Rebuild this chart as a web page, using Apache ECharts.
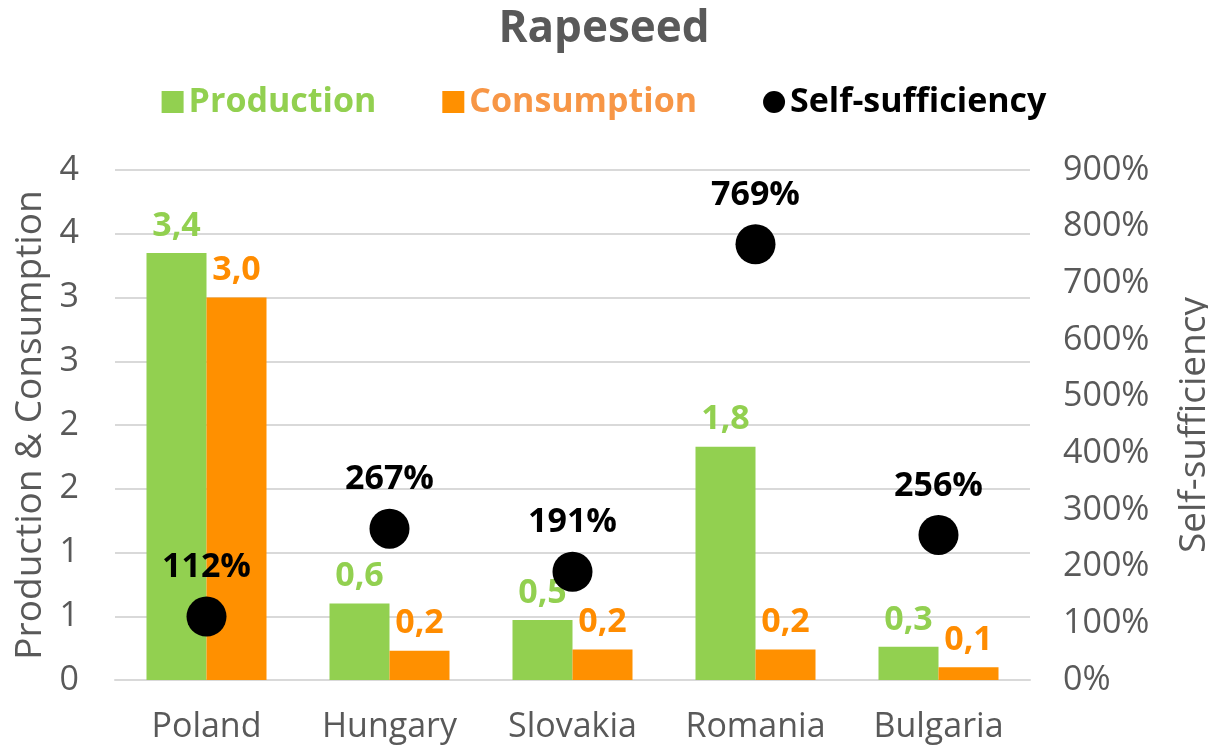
<!DOCTYPE html>
<html lang="en">
<head>
    <meta charset="utf-8">
    <title>Rapeseed</title>
    <script src="https://cdn.jsdelivr.net/npm/echarts@6/dist/echarts.min.js"></script>
    <style>
        html, body { margin: 0; padding: 0; background: #fff; }
        #chart { width: 1208px; height: 746px; }
    </style>
</head>
<body>
<div id="chart"></div>
<script type="text/javascript">
    var countries = ['Poland', 'Hungary', 'Slovakia', 'Romania', 'Bulgaria'];
    var production = [3.35, 0.60, 0.47, 1.83, 0.26];
    var consumption = [3.0, 0.23, 0.24, 0.24, 0.10];
    var selfSufficiency = [1.12, 2.67, 1.91, 7.69, 2.56];

    var gray = '#595959';
    var green = '#92D050';
    var orange = '#FF9000';
    var font = '"Open Sans", Lato, sans-serif';

    function commaFmt(p) {
        return p.value.toFixed(1).replace('.', ',');
    }

    var myChart = echarts.init(document.getElementById('chart'));

    var option = {
        textStyle: { fontFamily: font },
        title: {
            text: 'Rapeseed',
            left: 'center',
            top: 2,
            textStyle: { fontSize: 44, fontWeight: 'bold', color: gray, fontFamily: font }
        },
        legend: {
            top: 80,
            left: 'center',
            itemGap: 66,
            itemWidth: 22,
            itemHeight: 22,
            textStyle: { fontSize: 34, fontWeight: 'bold', fontFamily: font },
            data: [
                { name: 'Production', icon: 'rect', textStyle: { color: green } },
                { name: 'Consumption', icon: 'rect', textStyle: { color: '#F79646' } },
                { name: 'Self-sufficiency', icon: 'circle', textStyle: { color: '#000' } }
            ]
        },
        grid: {
            left: 115,
            right: 178,
            top: 170,
            bottom: 66,
            outerBoundsMode: 'none'
        },
        xAxis: {
            type: 'category',
            data: countries,
            axisTick: { show: false },
            axisLine: { lineStyle: { color: '#D9D9D9', width: 2 } },
            axisLabel: { color: gray, fontSize: 34, margin: 30 }
        },
        yAxis: [
            {
                type: 'value',
                min: 0,
                max: 4,
                interval: 0.5,
                name: 'Production & Consumption',
                nameLocation: 'middle',
                nameGap: 66,
                nameTextStyle: { color: gray, fontSize: 37 },
                axisLabel: {
                    color: gray,
                    fontSize: 34,
                    margin: 36,
                    formatter: function (v) { return String(Math.round(v)); }
                },
                axisLine: { show: false },
                axisTick: { show: false },
                splitLine: { lineStyle: { color: '#D9D9D9', width: 2 } }
            },
            {
                type: 'value',
                min: 0,
                max: 9,
                interval: 1,
                name: 'Self-sufficiency',
                nameLocation: 'middle',
                nameGap: 146,
                nameRotate: 90,
                nameTextStyle: { color: gray, fontSize: 37 },
                axisLabel: {
                    color: gray,
                    fontSize: 34,
                    margin: 33,
                    formatter: function (v) { return Math.round(v * 100) + '%'; }
                },
                axisLine: { show: false },
                axisTick: { show: false },
                splitLine: { show: false }
            }
        ],
        series: [
            {
                name: 'Production',
                type: 'bar',
                data: production,
                barWidth: 60,
                barGap: '0%',
                itemStyle: { color: green },
                label: {
                    show: true,
                    position: 'top',
                    distance: 10,
                    color: green,
                    fontSize: 34,
                    fontWeight: 'bold',
                    formatter: commaFmt
                }
            },
            {
                name: 'Consumption',
                type: 'bar',
                data: consumption,
                barWidth: 60,
                itemStyle: { color: orange },
                label: {
                    show: true,
                    position: 'top',
                    distance: 10,
                    color: '#FF8C00',
                    fontSize: 34,
                    fontWeight: 'bold',
                    formatter: commaFmt
                }
            },
            {
                name: 'Self-sufficiency',
                type: 'scatter',
                yAxisIndex: 1,
                data: selfSufficiency,
                symbolSize: 40,
                itemStyle: { color: '#000', opacity: 1 },
                z: 5,
                label: {
                    show: true,
                    position: 'top',
                    distance: 12,
                    color: '#000',
                    fontSize: 34,
                    fontWeight: 'bold',
                    formatter: function (p) { return Math.round(p.value * 100) + '%'; }
                }
            }
        ]
    };

    myChart.setOption(option);
</script>
</body>
</html>
